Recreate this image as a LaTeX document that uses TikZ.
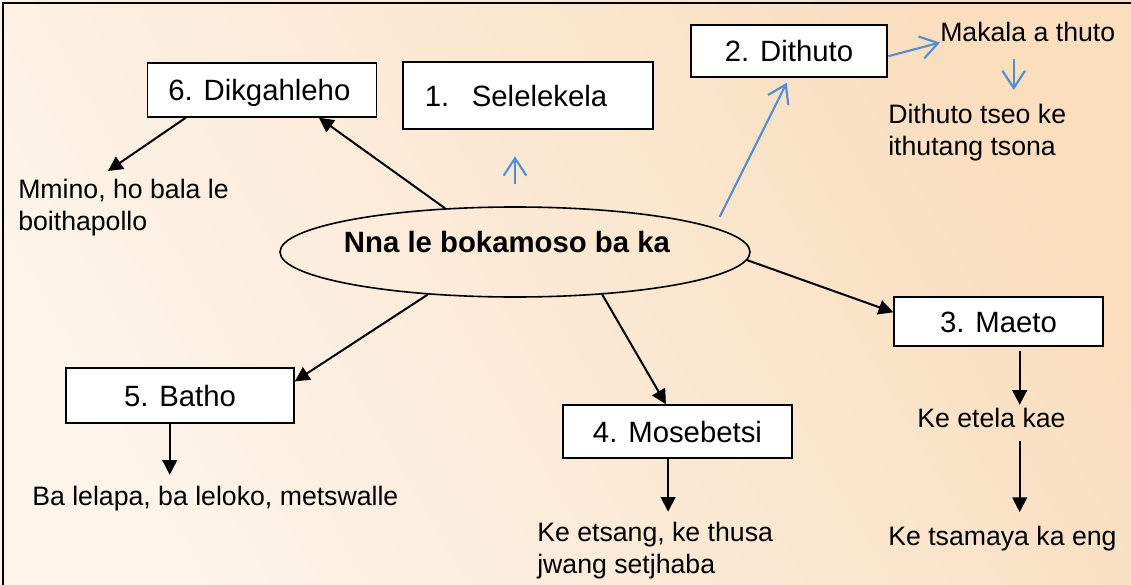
\documentclass[tikz,border=0pt]{standalone}
\usepackage{fontspec}
\setmainfont{Liberation Sans}
\usetikzlibrary{arrows.meta,shapes.geometric}
\definecolor{bgpale}{RGB}{253,244,234}
\definecolor{bgorange}{RGB}{250,222,190}
\definecolor{linkblue}{RGB}{84,141,212}

\begin{document}
\begin{tikzpicture}[x=0.75pt,y=-0.75pt,
  box/.style={draw,fill=white,line width=1.1pt,inner sep=0pt,
    font=\fontsize{22}{26}\selectfont,text height=15.75pt,text depth=0pt},
  boldbox/.style={box,line width=2pt},
  txt/.style={inner sep=0pt,align=left,font=\fontsize{20}{24}\selectfont},
  arr/.style={line width=1.5pt,-{Triangle[length=11pt,width=11pt]}},
  barr/.style={linkblue,line width=1.6pt,-{Straight Barb[length=13pt,width=17pt]}}]
\useasboundingbox (0,0) rectangle (1131,585);
\clip (0,0) rectangle (1131,585);

% Background and frame
\fill[top color=bgorange,bottom color=bgpale,shading angle=-60] (0,0) rectangle (1131,585);
\draw[line width=1.5pt] (3,585) -- (3,3) -- (1131,3);

% Centre
\node[draw,ellipse,line width=1.2pt,inner ysep=0pt,inner xsep=-8pt,minimum width=352.5pt,minimum height=67.5pt,
  font=\fontsize{22}{26}\selectfont\bfseries,text height=8pt,text depth=8pt] (main) at (515,252) {Nna le bokamoso ba ka\kern12pt};

% Boxes
\node[boldbox,minimum width=187.5pt,minimum height=50.25pt] (selelekela) at (528,95.5) {1.\hspace{17pt}Selelekela\kern18pt};
\node[boldbox,minimum width=147pt,minimum height=39pt] (dithuto) at (789,51) {2. Dithuto};
\node[box,minimum width=156.75pt,minimum height=36.75pt] (maeto) at (998.5,321.5) {3. Maeto};
\node[box,minimum width=171.75pt,minimum height=39.75pt] (mosebetsi) at (677.5,431.5) {4. Mosebetsi};
\node[box,minimum width=171pt,minimum height=41.25pt] (batho) at (180,395.5) {5. Batho};
\node[box,minimum width=171.75pt,minimum height=40.5pt] (dikgahleho) at (262,90) {6. Dikgahleho\kern4pt};

% Texts
\node[txt,anchor=base west] (makala) at (940,42) {Makala a thuto};
\node[txt,anchor=north west] (dithutotxt) at (888,104) {Dithuto tseo ke\\ithutang tsona};
\node[txt,anchor=north west] (mmino) at (18,179) {Mmino, ho bala le\\boithapollo};
\node[txt,anchor=base west] (bathotxt) at (32,505) {Ba lelapa, ba leloko, metswalle};
\node[txt,anchor=north west] (mosebetsitxt) at (537,522) {Ke etsang, ke thusa\\jwang setjhaba};
\node[txt,anchor=base west] (etela) at (917,427) {Ke etela kae};
\node[txt,anchor=base west] (tsamaya) at (888,545) {Ke tsamaya ka eng};

% Black arrows
\draw[arr] (main.148) -- (dikgahleho.-26.6);
\draw[arr] (dikgahleho.200.8) -- ([xshift=67.5pt,yshift=6pt]mmino.north west);
\draw[arr] (main.206.6) -- (batho.7.5);
\draw[arr,shorten >=8pt] (batho.-110) -- (batho.-110 |- bathotxt.north);
\draw[arr] (main.-26.6) -- (mosebetsi.113.5);
\draw[arr,shorten >=7.7pt] (mosebetsi.-109.7) -- (mosebetsi.-109.7 |- mosebetsitxt.north);
\draw[arr] (main.-2) -- (maeto.175.3);
\draw[arr,shorten <=3pt,shorten >=2pt] (maeto.-50.1) -- (maeto.-50.1 |- etela.north);
\draw[arr,shorten <=9.75pt,shorten >=10pt] (maeto.-50.1 |- etela.south) -- (maeto.-50.1 |- tsamaya.north);

% Blue arrows
\coordinate (mk) at ([xshift=-10.5pt]makala.south);
\draw[barr,shorten <=16.5pt,shorten >=19.5pt] (main.north) -- (main.north |- selelekela.south);
\draw[barr,shorten <=9pt,shorten >=3.75pt] (main.7) -- (dithuto.south);
\draw[barr] (dithuto.-3.5) -- (makala.south west);
\draw[barr,shorten <=12pt,shorten >=10.5pt] (mk) -- (mk |- dithutotxt.north);
\end{tikzpicture}
\end{document}
